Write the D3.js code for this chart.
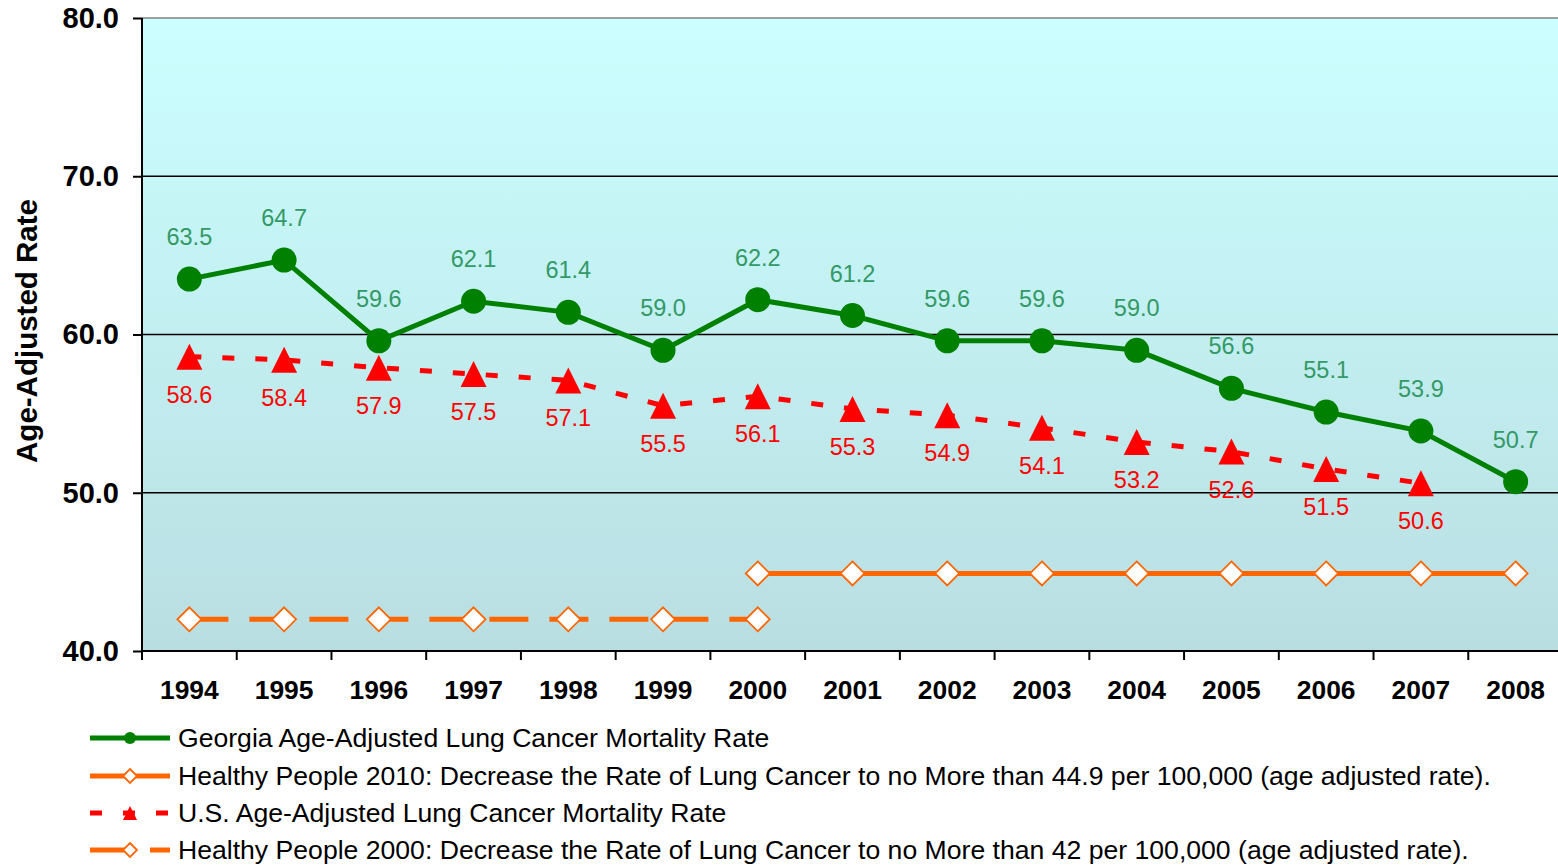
<!DOCTYPE html>
<html><head><meta charset="utf-8">
<script src="https://cdn.jsdelivr.net/npm/d3@7"></script>
<style>body{margin:0;background:#fff;} svg{display:block;font-family:Arial,"Liberation Sans",sans-serif;}</style>
</head><body>
<svg id="chart" width="1558" height="867"></svg>
<script>
const years = ["1994","1995","1996","1997","1998","1999","2000","2001","2002","2003","2004","2005","2006","2007","2008"];
const georgia = [63.5,64.7,59.6,62.1,61.4,59.0,62.2,61.2,59.6,59.6,59.0,56.6,55.1,53.9,50.7];
const usRate = [58.6,58.4,57.9,57.5,57.1,55.5,56.1,55.3,54.9,54.1,53.2,52.6,51.5,50.6,null];
const hp2010 = [null,null,null,null,null,null,44.9,44.9,44.9,44.9,44.9,44.9,44.9,44.9,44.9];
const hp2000 = [42,42,42,42,42,42,42,null,null,null,null,null,null,null,null];
const yTicks = [40,50,60,70,80];
const legendLabels = [
  "Georgia Age-Adjusted Lung Cancer Mortality Rate",
  "Healthy People 2010: Decrease the Rate of Lung Cancer to no More than 44.9 per 100,000 (age adjusted rate).",
  "U.S. Age-Adjusted Lung Cancer Mortality Rate",
  "Healthy People 2000: Decrease the Rate of Lung Cancer to no More than 42 per 100,000 (age adjusted rate)."
];

const svg = d3.select("#chart");
const L = 142, R = 1563, T = 18, B = 651;
const x = d3.scaleBand().domain(years).range([L, R]);
const y = d3.scaleLinear().domain([40, 80]).range([B, T]);
const cx = d => x(d) + x.bandwidth() / 2;

const GREEN = "#008000", GLABEL = "#339966", RED = "#ff0000", ORANGE = "#ff6600";

const defs = svg.append("defs");
const grad = defs.append("linearGradient").attr("id","bg").attr("x1",0).attr("y1",0).attr("x2",0).attr("y2",1);
grad.append("stop").attr("offset","0%").attr("stop-color","#ccffff");
grad.append("stop").attr("offset","100%").attr("stop-color","#b9dee2");
svg.append("rect").attr("x",L).attr("y",T).attr("width",R-L).attr("height",B-T).attr("fill","url(#bg)");

// gridlines
svg.append("g").selectAll("line").data(yTicks.filter(v => v > 40 && v < 80)).join("line")
  .attr("x1",L).attr("x2",R).attr("y1",d=>y(d)).attr("y2",d=>y(d)).attr("stroke","#000").attr("stroke-width",1.3);
svg.append("line").attr("x1",L).attr("x2",R).attr("y1",y(80)).attr("y2",y(80)).attr("stroke","#808080").attr("stroke-width",1.5);

// y axis
const yAxis = d3.axisLeft(y).tickValues(yTicks).tickFormat(d3.format(".1f")).tickSize(9).tickPadding(14);
const gy = svg.append("g").attr("transform",`translate(${L},0)`).call(yAxis);
gy.select(".domain").attr("stroke","#000").attr("stroke-width",2).attr("d",`M0,${T}V${B}`);
gy.selectAll(".tick line").attr("stroke","#000").attr("stroke-width",2);
gy.selectAll(".tick text").attr("font-size",29).attr("font-weight","bold").attr("fill","#000").attr("font-family","Arial, Liberation Sans, sans-serif");

// x axis
const xAxis = d3.axisBottom(x).tickSize(0).tickPadding(24);
const gx = svg.append("g").attr("transform",`translate(0,${B})`).call(xAxis);
gx.select(".domain").attr("stroke","#000").attr("stroke-width",2).attr("d",`M${L},0H${R}`);
gx.selectAll(".tick text").attr("font-size",26.4).attr("font-weight","bold").attr("fill","#000").attr("font-family","Arial, Liberation Sans, sans-serif").attr("dy","0.9em");
const bounds = d3.range(years.length + 1).map(i => L + i * x.step());
svg.append("g").selectAll("line").data(bounds).join("line")
  .attr("x1",d=>d).attr("x2",d=>d).attr("y1",B).attr("y2",B+9).attr("stroke","#000").attr("stroke-width",2);

// y title
svg.append("text").attr("transform","translate(37,331) rotate(-90)").attr("text-anchor","middle")
  .attr("font-size",29.5).attr("font-weight","bold").text("Age-Adjusted Rate");

function lineFor(vals){
  return d3.line().defined(d=>d[1]!=null).x(d=>cx(d[0])).y(d=>y(d[1]))(years.map((yr,i)=>[yr,vals[i]]));
}
const pts = vals => years.map((yr,i)=>({yr, v: vals[i]})).filter(d=>d.v!=null);
const diamond = (s) => `M0,${-s}L${s},0L0,${s}L${-s},0Z`;
const tri = (s) => `M0,${-s}L${s},${s}L${-s},${s}Z`;

// HP2000
svg.append("path").attr("d",lineFor(hp2000)).attr("fill","none").attr("stroke",ORANGE).attr("stroke-width",5).attr("stroke-dasharray","39,21");
// HP2010
svg.append("path").attr("d",lineFor(hp2010)).attr("fill","none").attr("stroke",ORANGE).attr("stroke-width",5);
svg.append("g").selectAll("path").data(pts(hp2000).concat(pts(hp2010))).join("path")
  .attr("transform",d=>`translate(${cx(d.yr)},${y(d.v)})`).attr("d",diamond(12)).attr("fill","#fff").attr("stroke",ORANGE).attr("stroke-width",1.8);

// US
svg.append("path").attr("d",lineFor(usRate)).attr("fill","none").attr("stroke",RED).attr("stroke-width",5).attr("stroke-dasharray","12,21");
svg.append("g").selectAll("path").data(pts(usRate)).join("path")
  .attr("transform",d=>`translate(${cx(d.yr)},${y(d.v)})`).attr("d",tri(13)).attr("fill",RED);
svg.append("g").selectAll("text").data(pts(usRate)).join("text")
  .attr("x",d=>cx(d.yr)).attr("y",d=>y(d.v)+46).attr("text-anchor","middle").attr("font-size",23.5).attr("fill",RED)
  .text(d=>d.v.toFixed(1));

// Georgia
svg.append("path").attr("d",lineFor(georgia)).attr("fill","none").attr("stroke",GREEN).attr("stroke-width",5);
svg.append("g").selectAll("circle").data(pts(georgia)).join("circle")
  .attr("cx",d=>cx(d.yr)).attr("cy",d=>y(d.v)).attr("r",12.5).attr("fill",GREEN);
svg.append("g").selectAll("text").data(pts(georgia)).join("text")
  .attr("x",d=>cx(d.yr)).attr("y",d=>y(d.v)-34).attr("text-anchor","middle").attr("font-size",23.5).attr("fill",GLABEL)
  .text(d=>d.v.toFixed(1));

// legend
const lg = svg.append("g");
const rows = [738, 776, 813, 850];
const lx1 = 90, lx2 = 170, lm = 130;
legendLabels.forEach((t,i)=>{
  const ry = rows[i];
  const g = lg.append("g");
  if(i===0){
    g.append("line").attr("x1",lx1).attr("x2",lx2).attr("y1",ry).attr("y2",ry).attr("stroke",GREEN).attr("stroke-width",5);
    g.append("circle").attr("cx",lm).attr("cy",ry).attr("r",6).attr("fill",GREEN);
  } else if(i===1){
    g.append("line").attr("x1",lx1).attr("x2",lx2).attr("y1",ry).attr("y2",ry).attr("stroke",ORANGE).attr("stroke-width",5);
    g.append("path").attr("transform",`translate(${lm},${ry})`).attr("d",diamond(7)).attr("fill","#fff").attr("stroke",ORANGE).attr("stroke-width",1.8);
  } else if(i===2){
    g.append("line").attr("x1",lx1).attr("x2",lx2).attr("y1",ry).attr("y2",ry).attr("stroke",RED).attr("stroke-width",5).attr("stroke-dasharray","12,21");
    g.append("path").attr("transform",`translate(${lm},${ry})`).attr("d",tri(7)).attr("fill",RED);
  } else {
    g.append("line").attr("x1",lx1).attr("x2",lx2).attr("y1",ry).attr("y2",ry).attr("stroke",ORANGE).attr("stroke-width",5).attr("stroke-dasharray","39,21");
    g.append("path").attr("transform",`translate(${lm},${ry})`).attr("d",diamond(7)).attr("fill","#fff").attr("stroke",ORANGE).attr("stroke-width",1.8);
  }
  g.append("text").attr("x",178).attr("y",ry+9).attr("font-size",26.6).attr("fill","#000").text(t);
});
</script>
</body></html>
